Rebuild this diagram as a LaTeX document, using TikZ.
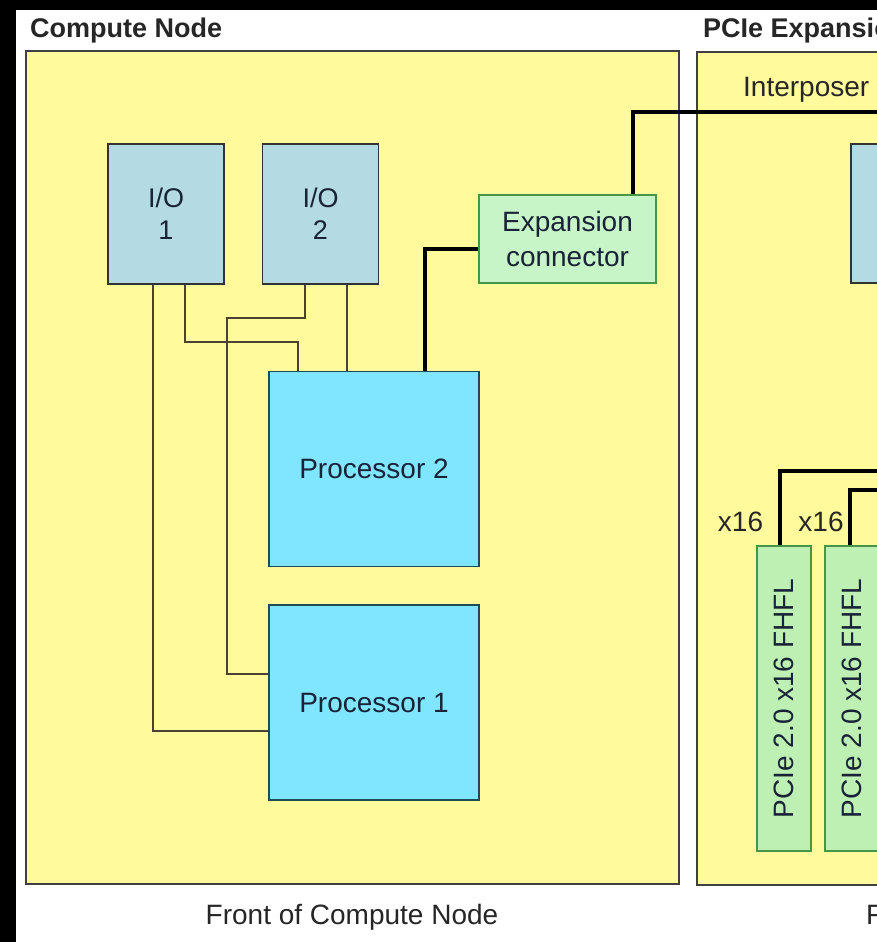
\documentclass[tikz,border=0pt]{standalone}
\usepackage{xcolor}
\usepackage{fontspec}
\setmainfont{Liberation Sans}
\usepackage{tikz}
\usetikzlibrary{positioning}

\definecolor{panelfill}{RGB}{255,250,155}
\definecolor{iofill}{RGB}{180,218,228}
\definecolor{cpufill}{RGB}{128,230,255}
\definecolor{connfill}{RGB}{200,245,200}
\definecolor{slotfill}{RGB}{190,240,180}
\definecolor{slotdraw}{RGB}{70,150,70}
\definecolor{cpudraw}{RGB}{30,75,85}
\definecolor{wiredraw}{RGB}{75,65,50}
\definecolor{inktext}{RGB}{25,35,55}

\begin{document}
\begin{tikzpicture}[
    x=1pt, y=-1pt,
    panel/.style={draw=black!75, line width=1.8pt, fill=panelfill,
                  inner sep=0pt, minimum height=833pt},
    iobox/.style={draw=black!80, line width=1.6pt, fill=iofill, inner sep=0pt,
                  minimum width=116pt, minimum height=140pt, align=center,
                  text=inktext, font=\fontsize{27}{32}\selectfont},
    cpu/.style={draw=cpudraw, line width=1.6pt, fill=cpufill, inner sep=0pt,
                minimum width=210pt, minimum height=195pt,
                text=inktext, font=\fontsize{28}{34}\selectfont},
    connbox/.style={draw=slotdraw, line width=1.4pt, fill=connfill, inner sep=0pt,
                    minimum width=177pt, minimum height=88pt, align=center,
                    text=inktext, font=\fontsize{28}{35}\selectfont},
    slot/.style={draw=slotdraw, line width=1.4pt, fill=slotfill, inner sep=0pt,
                 rotate=90, minimum width=305pt, minimum height=54pt,
                 text=inktext, font=\fontsize{28}{34}\selectfont},
    lbl/.style={inner sep=0pt, text=black!85, font=\fontsize{28}{34}\selectfont},
    heading/.style={inner sep=0pt, text=black!85, font=\bfseries\fontsize{27}{32}\selectfont},
    wire/.style={draw=wiredraw, line width=1.8pt},
    bus/.style={draw=black, line width=4pt}
]
\useasboundingbox (0,0) rectangle (877,942);
\clip (0,0) rectangle (877,942);
\fill[black] (0,0) rectangle (877,942);
\fill[white] (16,10) rectangle (877,942);

% panels
\node[panel, minimum width=653pt] (cn) at (352.5,467.5) {};
\node[panel, minimum width=640pt, anchor=north west] (pn) at (696,51) {};
\node[heading, anchor=west] (cntitle) at (30,31) {Compute Node};
\node[heading, anchor=west] (pntitle) at (703,31) {PCIe Expansion Node};
\node[lbl] (cncap) at (352,917) {Front of Compute Node};
\node[lbl, anchor=west] (pncap) at (866,917) {Front of PCIe Expansion Node};

% compute node
\node[iobox] (io1) at (166,214) {I/O\\1};
\node[iobox] (io2) at (320.5,214) {I/O\\2};
\node[connbox] (exp) at (567.5,239) {Expansion\\connector};
\node[cpu] (proc2) at (374,469) {Processor 2};
\node[cpu] (proc1) at (374,702.5) {Processor 1};

% expansion node
\node[lbl, anchor=west] (ilbl) at (743,90) {Interposer};
\node[iobox, minimum height=139pt] (ipb) at (909,213.5) {};
\node[slot] (pcie1) at (784,698.5) {PCIe 2.0 x16 FHFL};
\node[slot] (pcie2) at (852,698.5) {PCIe 2.0 x16 FHFL};
\node[lbl] (w1) at (740.5,522) {x16};
\node[lbl] (w2) at (821,522) {x16};

% links
\draw[wire] ([xshift=-13pt]io1.south) |- ([yshift=-28.5pt]proc1.west);
\draw[wire] ([xshift=19pt]io1.south) -- ++(0,57) -| ([xshift=-76pt]proc2.north);
\draw[wire] ([xshift=-15.5pt]io2.south) -- ++(0,33) -- ++(-78,0) |- ([yshift=28.5pt]proc1.west);
\draw[wire] ([xshift=26.5pt]io2.south) -- ([xshift=26.5pt]io2.south |- proc2.north);
\draw[bus] ([xshift=51pt]proc2.north) |- ([yshift=-10pt]exp.west);
\draw[bus] ([xshift=65.5pt]exp.north) |- ([yshift=31pt]ipb.north) -- (ipb.north);
\draw[bus] ([xshift=-4pt]pcie1.east) -- ++(0,-74) -| ([xshift=10pt]ipb.south);
\draw[bus] ([xshift=-2pt]pcie2.east) -- ++(0,-55) -| ([xshift=30pt]ipb.south);
\end{tikzpicture}
\end{document}
